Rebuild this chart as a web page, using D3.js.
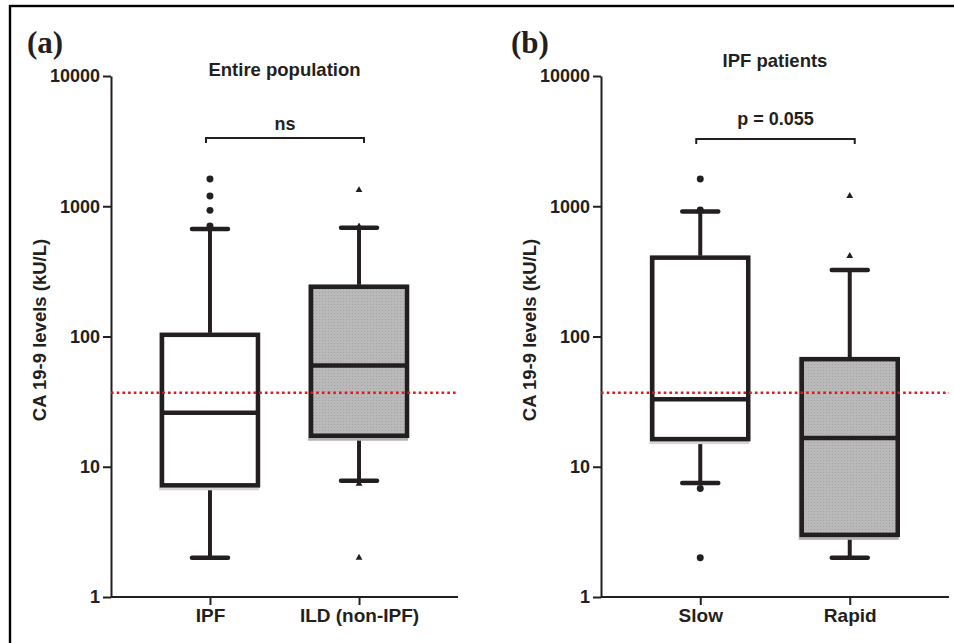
<!DOCTYPE html>
<html>
<head>
<meta charset="utf-8">
<script src="https://cdn.jsdelivr.net/npm/d3@7"></script>
<style>
  html, body { margin: 0; padding: 0; background: #fff; }
  svg { display: block; }
  text { font-family: "Liberation Sans", Arial, sans-serif; font-weight: bold; fill: #231f20; }
</style>
</head>
<body>
<svg id="chart" width="954" height="643"></svg>
<script>
// ---------- data ----------
const panelLetters = ["(a)", "(b)"];
const panelTitles = ["Entire population", "IPF patients"];
const comparisonLabels = ["ns", "p = 0.055"];
const categoriesA = ["IPF", "ILD (non-IPF)"];
const categoriesB = ["Slow", "Rapid"];
const yTickValues = [1, 10, 100, 1000, 10000];
const yAxisLabel = "CA 19-9 levels (kU/L)";
const cutoffValue = 37;

// panel (a): Entire population
const whiskerLowA = [2, 7.8];
const q1A = [7.2, 17.3];
const medianA = [26, 60];
const q3A = [103, 241];
const whiskerHighA = [670, 685];
const outliersA = [[1620, 1200, 930, 705], [1330, 700, 7.4, 2]];

// panel (b): IPF patients
const whiskerLowB = [7.5, 2];
const q1B = [16.3, 3.0];
const medianB = [33, 16.6];
const q3B = [403, 67];
const whiskerHighB = [910, 324];
const outliersB = [[1620, 936, 6.8, 2], [1200, 415]];

// ---------- drawing ----------
const svg = d3.select("#chart");
const ink = "#231f20";

// texture for grey boxes
const defs = svg.append("defs");
const pat = defs.append("pattern").attr("id", "greyTex")
  .attr("width", 3).attr("height", 3).attr("patternUnits", "userSpaceOnUse");
pat.append("rect").attr("width", 3).attr("height", 3).attr("fill", "#b9b9b9");
pat.append("rect").attr("x", 1).attr("y", 1).attr("width", 1).attr("height", 1).attr("fill", "#a4a4a4");

// outer frame (clipped at right/bottom like the reference)
svg.append("rect").attr("x", 10).attr("y", 6).attr("width", 960).attr("height", 660)
  .attr("fill", "none").attr("stroke", "#000").attr("stroke-width", 2.4);

const panels = [
  { letter: panelLetters[0], letterX: 27, title: panelTitles[0], titleY: 76,
    comp: comparisonLabels[0], compY: 130, bracketY: 138,
    cats: categoriesA, lo: whiskerLowA, q1: q1A, med: medianA, q3: q3A, hi: whiskerHighA,
    out: outliersA, x0: 111, x1: 458, labelX: 40 },
  { letter: panelLetters[1], letterX: 511, title: panelTitles[1], titleY: 67,
    comp: comparisonLabels[1], compY: 125, bracketY: 139,
    cats: categoriesB, lo: whiskerLowB, q1: q1B, med: medianB, q3: q3B, hi: whiskerHighB,
    out: outliersB, x0: 601, x1: 949, labelX: 530 }
];

const yTop = 76, yBottom = 597;
const boxW = 96, capW = 36;
const fills = ["#ffffff", "url(#greyTex)"];
const shadow = ["#d6d6d6", "#b3b3b3"];
const markers = [d3.symbolCircle, d3.symbolTriangle];
const markerSize = [38, 20];

panels.forEach(p => {
  const g = svg.append("g");
  const y = d3.scaleLog().domain([1, 10000]).range([yBottom, yTop]);
  const x = d3.scalePoint().domain(p.cats).range([p.x0, p.x1]).padding(0.664);

  // panel letter
  svg.append("text").attr("x", p.letterX).attr("y", 53)
    .style("font-family", "'Liberation Serif', 'Times New Roman', serif")
    .style("font-size", "31px").text(p.letter);

  // title
  g.append("text").attr("x", (p.x0 + p.x1) / 2).attr("y", p.titleY)
    .attr("text-anchor", "middle").style("font-size", "18.5px").text(p.title);

  // y axis label
  g.append("text")
    .attr("transform", `translate(${p.labelX},330) rotate(-90)`)
    .attr("dy", "0.35em").attr("text-anchor", "middle")
    .style("font-size", "18.5px").text(yAxisLabel);

  // y axis
  const ya = g.append("g").attr("transform", `translate(${p.x0},0)`)
    .call(d3.axisLeft(y).tickValues(yTickValues).tickFormat(d3.format("d"))
      .tickSize(8).tickSizeOuter(0).tickPadding(3));
  ya.select(".domain").attr("stroke", ink).attr("stroke-width", 2);
  ya.selectAll(".tick line").attr("stroke", ink).attr("stroke-width", 2);
  ya.selectAll(".tick text").style("font-size", "18px").attr("fill", ink)
    .style("font-family", "'Liberation Sans', Arial, sans-serif").style("font-weight", "bold");

  // x axis
  const xa = g.append("g").attr("transform", `translate(0,${yBottom})`)
    .call(d3.axisBottom(x).tickSize(8).tickSizeOuter(0).tickPadding(4));
  xa.select(".domain").attr("stroke", ink).attr("stroke-width", 2)
    .attr("d", `M${p.x0},0H${p.x1}`);
  xa.selectAll(".tick line").attr("stroke", ink).attr("stroke-width", 2);
  xa.selectAll(".tick text").style("font-size", "19px").attr("fill", ink)
    .style("font-family", "'Liberation Sans', Arial, sans-serif").style("font-weight", "bold");

  // boxes
  p.cats.forEach((c, i) => {
    const cx = x(c);
    const bx = cx - boxW / 2;
    const yq3 = y(p.q3[i]), yq1 = y(p.q1[i]);
    // whiskers
    g.append("line").attr("x1", cx).attr("x2", cx).attr("y1", y(p.hi[i])).attr("y2", yq3)
      .attr("stroke", ink).attr("stroke-width", 4);
    g.append("line").attr("x1", cx).attr("x2", cx).attr("y1", yq1).attr("y2", y(p.lo[i]))
      .attr("stroke", ink).attr("stroke-width", 4);
    [p.hi[i], p.lo[i]].forEach(v => {
      g.append("line").attr("x1", cx - capW / 2).attr("x2", cx + capW / 2)
        .attr("y1", y(v)).attr("y2", y(v))
        .attr("stroke", ink).attr("stroke-width", 4.5).attr("stroke-linecap", "round");
    });
    // shadow / offset fill
    g.append("rect").attr("x", bx - 3).attr("y", yq3 - 2)
      .attr("width", boxW + 4).attr("height", yq1 - yq3 + 7)
      .attr("fill", shadow[i]);
    // box
    g.append("rect").attr("x", bx).attr("y", yq3)
      .attr("width", boxW).attr("height", yq1 - yq3)
      .attr("fill", fills[i]).attr("stroke", ink).attr("stroke-width", 4.5);
    // median
    g.append("line").attr("x1", bx).attr("x2", bx + boxW)
      .attr("y1", y(p.med[i])).attr("y2", y(p.med[i]))
      .attr("stroke", ink).attr("stroke-width", 4.5);
  });

  // cutoff line
  g.append("line").attr("x1", p.x0).attr("x2", p.x1)
    .attr("y1", y(cutoffValue)).attr("y2", y(cutoffValue))
    .attr("stroke", "#e8141c").attr("stroke-width", 2.6)
    .attr("stroke-dasharray", "2.6,3.1");

  // outliers
  p.cats.forEach((c, i) => {
    const sym = d3.symbol().type(markers[i]).size(markerSize[i]);
    g.selectAll(null).data(p.out[i]).join("path")
      .attr("d", sym)
      .attr("transform", d => `translate(${x(c)},${y(d)})`)
      .attr("fill", ink);
  });

  // comparison bracket
  const bx0 = x(p.cats[0]) - 4, bx1 = x(p.cats[1]) + 5;
  g.append("path")
    .attr("d", `M${bx0},${p.bracketY + 5}V${p.bracketY}H${bx1}V${p.bracketY + 5}`)
    .attr("fill", "none").attr("stroke", ink).attr("stroke-width", 2);
  g.append("text").attr("x", (bx0 + bx1) / 2).attr("y", p.compY)
    .attr("text-anchor", "middle").style("font-size", "18px").text(p.comp);
});
</script>
</body>
</html>
